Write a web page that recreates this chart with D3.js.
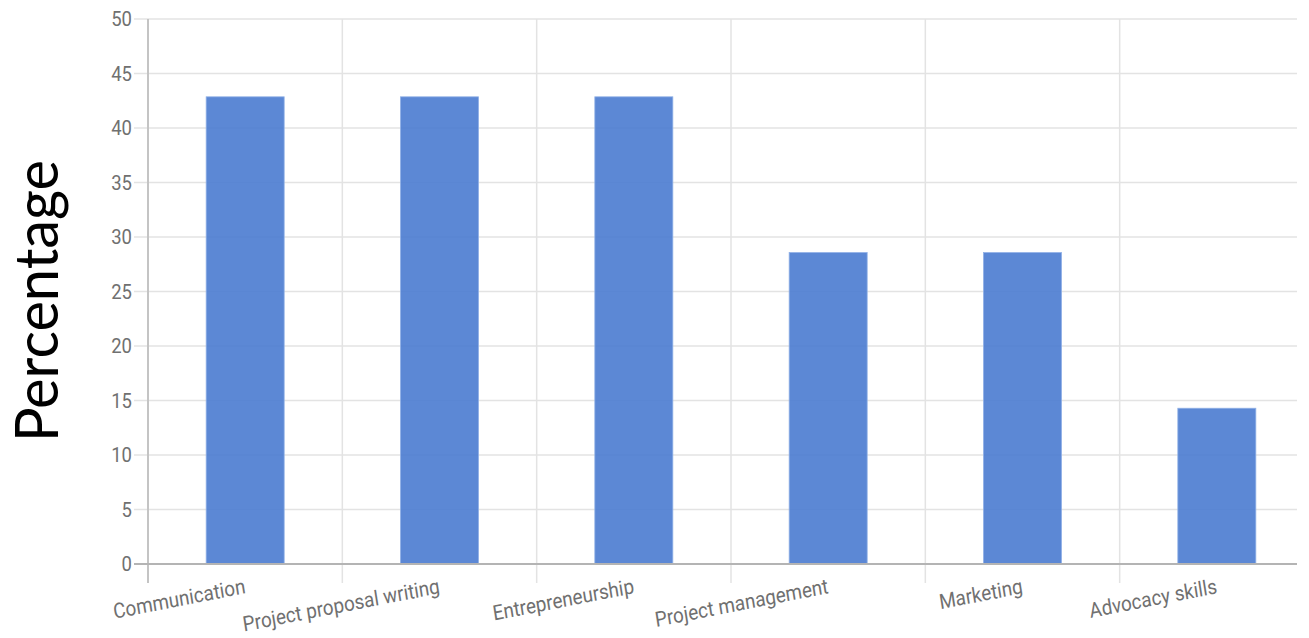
<!DOCTYPE html>
<html><head><meta charset="utf-8">
<script src="https://cdn.jsdelivr.net/npm/d3@7"></script>
<style>body{margin:0;background:#fff}svg{display:block}</style>
</head><body>
<script>
const categories = ["Communication","Project proposal writing","Entrepreneurship","Project management","Marketing","Advocacy skills"];
const values = [42.86, 42.86, 42.86, 28.57, 28.57, 14.29];
const yTicks = [0,5,10,15,20,25,30,35,40,45,50];
const yTitle = "Percentage";

(function () {
const W = 1309, H = 638;
const svg = d3.select("body").append("svg").attr("width", W).attr("height", H);
const pLeft = 148, bandEnd = 1314, plotRight = 1297, pTop = 19, pBottom = 564;

const x = d3.scaleBand().domain(categories).range([pLeft, bandEnd]).paddingInner(0).paddingOuter(0);
const y = d3.scaleLinear().domain([0, 50]).range([pBottom, pTop]);
const barW = 78;

// horizontal gridlines
svg.append("g").selectAll("line").data(yTicks.filter(t => t > 0)).join("line")
  .attr("x1", pLeft - 14).attr("x2", plotRight)
  .attr("y1", d => y(d)).attr("y2", d => y(d))
  .attr("stroke", "#e3e3e3").attr("stroke-width", 1.5);
// vertical gridlines
svg.append("g").selectAll("line").data(categories.slice(1)).join("line")
  .attr("x1", d => x(d)).attr("x2", d => x(d))
  .attr("y1", pTop).attr("y2", 583)
  .attr("stroke", "#e3e3e3").attr("stroke-width", 1.5);

// bars
svg.append("g").selectAll("rect").data(values).join("rect")
  .attr("x", (d, i) => x(categories[i]) + x.bandwidth() / 2 - barW / 2)
  .attr("width", barW)
  .attr("y", d => y(d))
  .attr("height", d => y(0) - y(d))
  .attr("fill", "rgb(74,123,208)").attr("fill-opacity", 0.9)
  .attr("stroke", "#8fb0e6").attr("stroke-width", 0.8);

// axes lines
svg.append("line").attr("x1", pLeft).attr("x2", pLeft).attr("y1", pTop).attr("y2", 583)
  .attr("stroke", "#c4c4c4").attr("stroke-width", 2);
svg.append("line").attr("x1", pLeft - 14).attr("x2", plotRight).attr("y1", pBottom).attr("y2", pBottom)
  .attr("stroke", "#b4b4b4").attr("stroke-width", 2);

// y tick labels
svg.append("g").selectAll("text").data(yTicks).join("text")
  .attr("transform", d => `translate(132,${y(d)}) scale(0.88,1)`)
  .attr("dy", "0.35em")
  .attr("text-anchor", "end")
  .attr("font-family", "Roboto, 'Liberation Sans', sans-serif")
  .attr("font-size", 21).attr("fill", "#707070")
  .text(d => d);

// x labels
svg.append("g").selectAll("text").data(categories).join("text")
  .attr("transform", d => `translate(${x(d) + x.bandwidth() / 2 + 1},${593}) scale(0.9,1) rotate(-10)`)
  .attr("text-anchor", "end")
  .attr("font-family", "Roboto, 'Liberation Sans', sans-serif")
  .attr("font-size", 21).attr("fill", "#707070")
  .text(d => d);

// y title
svg.append("text")
  .attr("transform", "translate(58,301) rotate(-90)")
  .attr("text-anchor", "middle")
  .attr("font-family", "Lato, 'Noto Sans', sans-serif")
  .attr("font-size", 60).attr("fill", "#000")
  .attr("textLength", 282).attr("lengthAdjust", "spacingAndGlyphs")
  .text(yTitle);
})();
</script>
</body></html>
